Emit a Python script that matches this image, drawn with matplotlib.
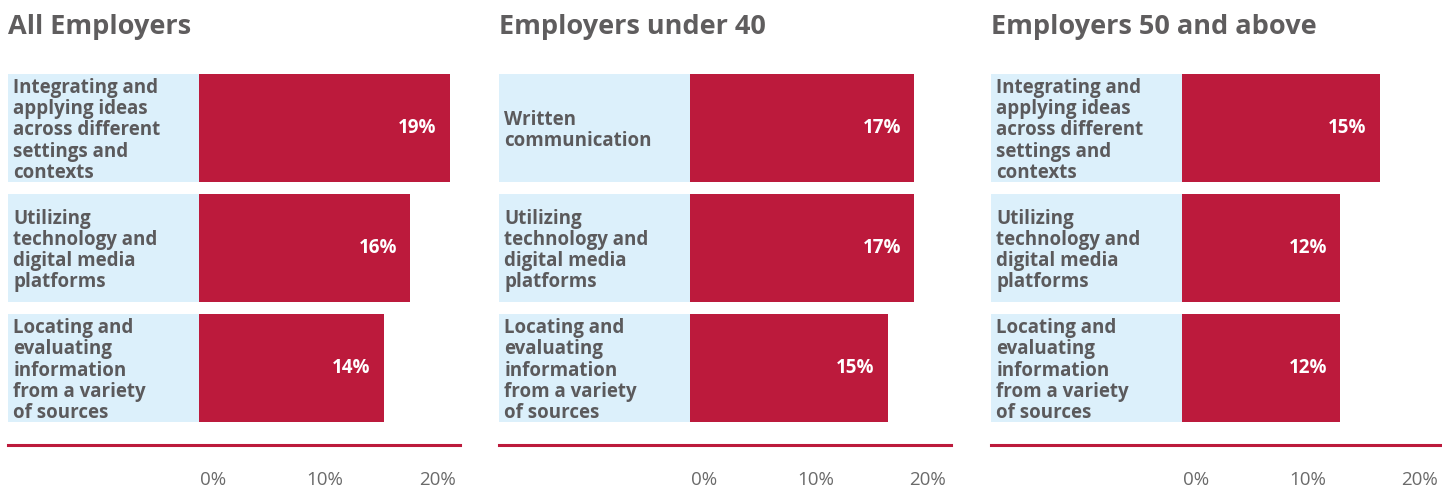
import matplotlib
matplotlib.use('Agg')
import matplotlib.pyplot as plt

plt.rcParams['font.family'] = ['Open Sans', 'DejaVu Sans']

# Data for the three panels
titles = ['All Employers', 'Employers under 40', 'Employers 50 and above']

skills_all = ['Integrating and\napplying ideas\nacross different\nsettings and\ncontexts',
              'Utilizing\ntechnology and\ndigital media\nplatforms',
              'Locating and\nevaluating\ninformation\nfrom a variety\nof sources']
skills_under40 = ['Written\ncommunication',
                  'Utilizing\ntechnology and\ndigital media\nplatforms',
                  'Locating and\nevaluating\ninformation\nfrom a variety\nof sources']
skills_50up = skills_all

values_all = [19, 16, 14]
values_under40 = [17, 17, 15]
values_50up = [15, 12, 12]

tick_labels = ['0%', '10%', '20%']

panels = [
    (titles[0], skills_all, values_all),
    (titles[1], skills_under40, values_under40),
    (titles[2], skills_50up, values_50up),
]

RED = '#BC1A3C'
LIGHT_BLUE = '#DCF0FB'
GRAY = '#5B5A5C'

W, H = 1442, 487
fig = plt.figure(figsize=(W / 100, H / 100), dpi=100)

# panel geometry in pixels
panel_left = [8, 499, 991]
panel_width = 452
label_w_px = 191
px_per_pct = 13.2
ax_top, ax_bottom = 68, 445

label_w = label_w_px / px_per_pct
x_max = (panel_width - label_w_px) / px_per_pct
tick_pos = [(213 - 199) / px_per_pct, (325 - 199) / px_per_pct, (437 - 199) / px_per_pct]

for left, (title, skills, values) in zip(panel_left, panels):
    ax = fig.add_axes([left / W, 1 - ax_bottom / H, panel_width / W, (ax_bottom - ax_top) / H])
    y = range(len(values))
    ax.barh(y, [label_w] * len(values), left=-label_w, height=0.9, color=LIGHT_BLUE)
    ax.barh(y, values, height=0.9, color=RED)
    for yi, (s, v) in zip(y, zip(skills, values)):
        ax.text(-label_w + 0.4, yi + 0.02, s, va='center', ha='left', fontsize=13.5,
                fontweight='bold', color=GRAY, linespacing=1.08)
        ax.text(v - 1.0, yi, f'{v}%', va='center', ha='right', fontsize=13.5,
                fontweight='bold', color='white')

    ax.set_xlim(-label_w, x_max)
    ax.set_ylim(2 + 0.5 + 0.14, -0.5)
    for side in ['top', 'left', 'right']:
        ax.spines[side].set_visible(False)
    ax.spines['bottom'].set_color(RED)
    ax.spines['bottom'].set_linewidth(2.2)
    ax.set_yticks([])
    ax.set_xticks(tick_pos, tick_labels)
    ax.tick_params(axis='x', length=0, pad=19, labelsize=13.5, labelcolor='#6A6A6A')

    fig.text(left / W, 1 - 27 / H, title, fontsize=19.5, fontweight='bold',
             color='#5F5D5E', va='center', ha='left')

fig.savefig('out.png', dpi=100)
